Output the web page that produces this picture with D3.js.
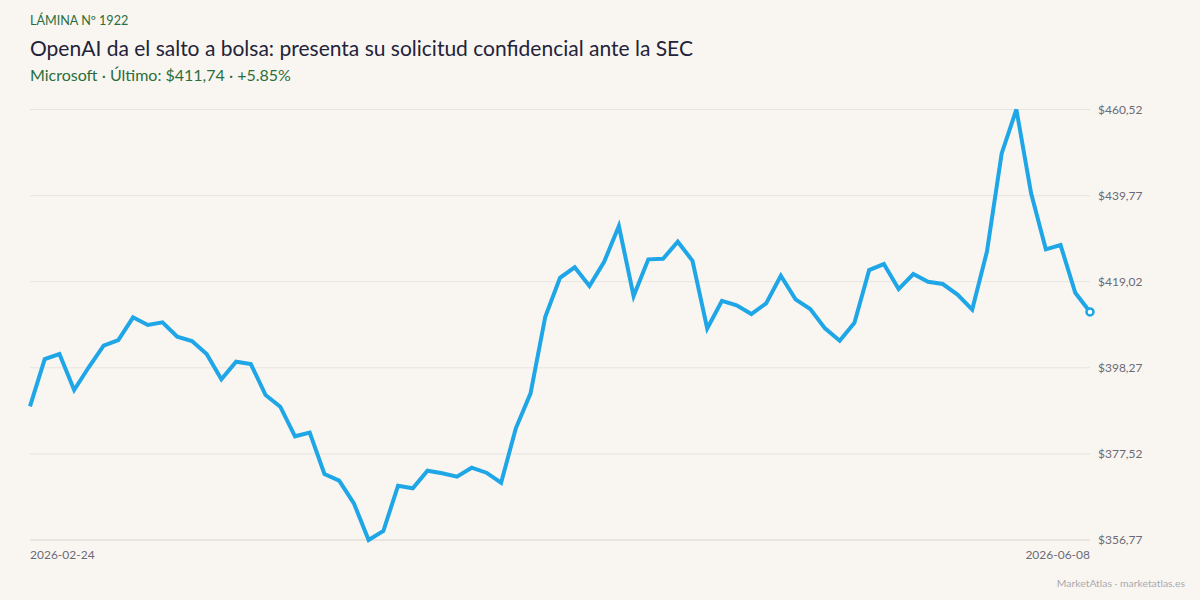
<!DOCTYPE html>
<html>
<head>
<meta charset="utf-8">
<script src="https://cdn.jsdelivr.net/npm/d3@7"></script>
<style>
  html, body { margin: 0; padding: 0; background: #f9f6f1; }
  svg { display: block; font-family: Lato, "Open Sans", sans-serif; }
</style>
</head>
<body>
<div id="chart"></div>
<script>
// cierres diarios de Microsoft (USD)
const closes = [
  388.98, 400.38, 401.59, 392.91, 398.46, 403.59, 404.96, 410.43, 408.58, 409.23,
  405.76, 404.72, 401.59, 395.49, 399.73, 399.18, 391.71, 388.89, 381.76, 382.67,
  372.67, 371.06, 365.61, 356.77, 358.94, 369.85, 369.23, 373.47, 372.84, 372.02,
  374.19, 372.99, 370.58, 383.69, 392.12, 410.58, 419.97, 422.48, 417.97, 423.83,
  432.43, 415.57, 424.41, 424.55, 428.65, 424.07, 407.73, 414.41, 413.32, 411.23,
  413.81, 420.46, 414.77, 412.43, 407.78, 404.79, 409.13, 421.83, 423.28, 417.25,
  420.87, 419.01, 418.46, 415.93, 412.31, 426.29, 449.95, 460.52, 440.31, 426.82,
  427.85, 416.36, 411.74
];
const dateLabels = ["2026-02-24", "2026-06-08"];
const yTicks = [356.77, 377.52, 398.27, 419.02, 439.77, 460.52];

const kicker = "LÁMINA Nº 1922";
const title = "OpenAI da el salto a bolsa: presenta su solicitud confidencial ante la SEC";
const subtitle = "Microsoft · Último: $411,74 · +5.85%";
const footer = "MarketAtlas · marketatlas.es";

const width = 1200, height = 600;
const margin = { top: 109.5, right: 110, bottom: 60, left: 30 };

const svg = d3.select("#chart").append("svg")
  .attr("width", width)
  .attr("height", height);

svg.append("rect")
  .attr("width", width).attr("height", height)
  .attr("fill", "#f9f6f1");

const x = d3.scaleLinear()
  .domain([0, closes.length - 1])
  .range([margin.left, width - margin.right]);

const y = d3.scaleLinear()
  .domain([d3.min(yTicks), d3.max(yTicks)])
  .range([height - margin.bottom, margin.top]);

const fmt = v => "$" + v.toFixed(2).replace(".", ",");

// rejilla horizontal
svg.append("g")
  .selectAll("line")
  .data(yTicks)
  .join("line")
  .attr("x1", margin.left)
  .attr("x2", width - margin.right)
  .attr("y1", d => y(d))
  .attr("y2", d => y(d))
  .attr("stroke", (d, i) => i === 0 ? "#d9d3c8" : "#e8e4de")
  .attr("stroke-width", 1);

// etiquetas eje Y (derecha)
svg.append("g")
  .selectAll("text")
  .data(yTicks)
  .join("text")
  .attr("x", width - margin.right + 8)
  .attr("y", d => y(d))
  .attr("dy", "0.35em")
  .style("font-size", "12px")
  .style("fill", "#6b6b78")
  .text(fmt);

// etiquetas eje X: primera y última fecha
svg.append("g")
  .selectAll("text")
  .data(dateLabels)
  .join("text")
  .attr("x", (d, i) => i === 0 ? x(0) : x(closes.length - 1))
  .attr("y", height - margin.bottom + 19)
  .attr("text-anchor", (d, i) => i === 0 ? "start" : "end")
  .style("font-size", "12px")
  .style("fill", "#6b6b78")
  .text(d => d);

// línea de precio
const line = d3.line()
  .x((d, i) => x(i))
  .y(d => y(d));

svg.append("path")
  .datum(closes)
  .attr("fill", "none")
  .attr("stroke", "#1fa6e7")
  .attr("stroke-width", 4)
  .attr("stroke-linejoin", "miter")
  .attr("d", line);

// último punto
const last = closes.length - 1;
svg.append("circle")
  .attr("cx", x(last))
  .attr("cy", y(closes[last]))
  .attr("r", 3.5)
  .attr("fill", "#ffffff")
  .attr("stroke", "#1fa6e7")
  .attr("stroke-width", 2.5);

// cabecera
svg.append("text")
  .attr("x", 30).attr("y", 25)
  .style("font-size", "12.6px")
  .style("fill", "#2b6e3c")
  .text(kicker);

svg.append("text")
  .attr("x", 30).attr("y", 56)
  .style("font-size", "21px")
  .style("fill", "#23233a")
  .text(title);

svg.append("text")
  .attr("x", 30).attr("y", 81)
  .style("font-size", "16px")
  .style("fill", "#2b6e3c")
  .text(subtitle);

// pie
svg.append("text")
  .attr("x", 1185).attr("y", 587)
  .attr("text-anchor", "end")
  .style("font-size", "10.4px")
  .style("fill", "#a9a9b0")
  .text(footer);
</script>
</body>
</html>
